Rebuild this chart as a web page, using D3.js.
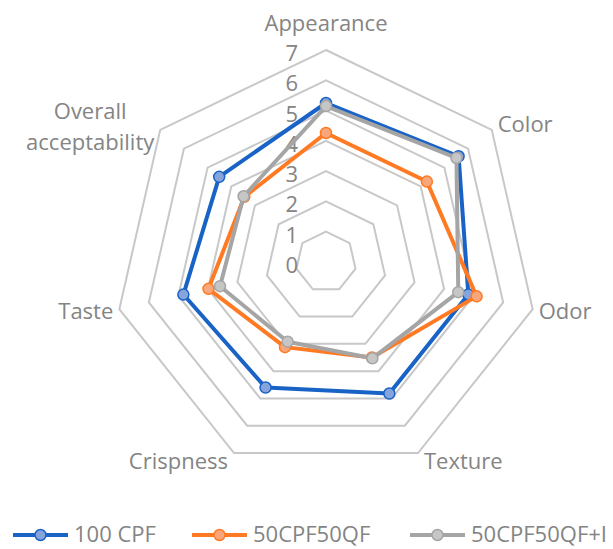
<!DOCTYPE html>
<html>
<head>
<meta charset="utf-8">
<script src="https://cdn.jsdelivr.net/npm/d3@7"></script>
<style>
  html, body { margin: 0; padding: 0; background: #fff; }
  svg { display: block; font-family: "Open Sans", sans-serif; }
</style>
</head>
<body>
<div id="chart"></div>
<script>
// axes of the radar, clockwise from the top
const categories = ["Appearance", "Color", "Odor", "Texture", "Crispness", "Taste", "Overall acceptability"];

// sensory scores
const cpf100 = [5.25, 5.6, 4.82, 4.82, 4.6, 4.83, 4.51];
const cpf50qf50 = [4.26, 4.26, 5.1, 3.5, 3.12, 3.98, 3.45];
const cpf50qf50i = [5.15, 5.51, 4.48, 3.53, 2.92, 3.59, 3.48];

const seriesNames = ["100 CPF", "50CPF50QF", "50CPF50QF+I"];
const tickValues = [0, 1, 2, 3, 4, 5, 6, 7];

const width = 613, height = 549;
const cx = 326, cy = 262;
const fontSize = 22;
const textColor = "#848484";

const series = [
  { name: seriesNames[0], values: cpf100, stroke: "#1a63c6", fill: "#86a4dc" },
  { name: seriesNames[1], values: cpf50qf50, stroke: "#ff7a22", fill: "#f9a77a" },
  { name: seriesNames[2], values: cpf50qf50i, stroke: "#a5a5a5", fill: "#c6c6c6" }
];

const svg = d3.select("#chart").append("svg")
  .attr("width", width).attr("height", height);

const r = d3.scaleLinear().domain([0, 7]).range([0, 212]);
const angle = d3.scalePoint().domain(categories).range([0, 2 * Math.PI * 6 / 7]);

const px = (cat, v) => cx + r(v) * Math.sin(angle(cat));
const py = (cat, v) => cy - r(v) * Math.cos(angle(cat));

const g = svg.append("g");

// grid rings
g.selectAll("path.ring")
  .data(tickValues.slice(1))
  .join("path")
  .attr("class", "ring")
  .attr("d", v => d3.line()(categories.map(c => [px(c, v), py(c, v)])) + "Z")
  .attr("fill", "none")
  .attr("stroke", "#c8c8c8")
  .attr("stroke-width", 2);

// tick labels
g.selectAll("text.tick")
  .data(tickValues)
  .join("text")
  .attr("class", "tick")
  .attr("x", 298)
  .attr("y", v => cy - r(v) + 11)
  .attr("text-anchor", "end")
  .attr("font-size", fontSize)
  .attr("fill", textColor)
  .text(v => v);

// series lines + markers
const line = d3.line();
series.forEach(s => {
  const pts = categories.map((c, i) => [px(c, s.values[i]), py(c, s.values[i])]);
  g.append("path")
    .attr("d", line(pts) + "Z")
    .attr("fill", "none")
    .attr("stroke", s.stroke)
    .attr("stroke-width", 4)
    .attr("stroke-linejoin", "round");
  g.selectAll(null)
    .data(pts)
    .join("circle")
    .attr("cx", d => d[0]).attr("cy", d => d[1])
    .attr("r", 5.5)
    .attr("fill", s.fill)
    .attr("stroke", s.stroke)
    .attr("stroke-width", 1.5);
});

// axis labels
categories.forEach(c => {
  const a = angle(c);
  const vx = px(c, 7), vy = py(c, 7);
  const sx = Math.sin(a), cyv = -Math.cos(a);
  const t = g.append("text")
    .attr("font-size", fontSize)
    .attr("fill", textColor);
  if (Math.abs(sx) < 0.01) {
    t.attr("x", vx).attr("y", vy - 19).attr("text-anchor", "middle").text(c);
    return;
  }
  const x = vx + (sx > 0 ? 6 : -6);
  const y = vy + cyv * 9 + 8;
  const words = c.split(" ");
  if (words.length > 1) {
    // two-line label, lines centred on each other, block flush to the ring
    const spans = words.map((w, i) => t.append("tspan").attr("y", y + (i - 0.5) * 31 + 2).text(w));
    const widest = d3.max(spans, s => s.node().getComputedTextLength());
    const mid = sx > 0 ? x + widest / 2 : x - widest / 2;
    t.attr("text-anchor", "middle");
    spans.forEach(s => s.attr("x", mid));
  } else {
    t.attr("text-anchor", sx > 0 ? "start" : "end").attr("x", x).attr("y", y).text(c);
  }
});

// legend
const legendX = [13, 192, 410];
const leg = svg.append("g").attr("transform", "translate(0,535)");
series.forEach((s, i) => {
  const item = leg.append("g").attr("transform", `translate(${legendX[i]},0)`);
  item.append("line")
    .attr("x1", 0).attr("x2", 55).attr("y1", 0).attr("y2", 0)
    .attr("stroke", s.stroke).attr("stroke-width", 4);
  item.append("circle")
    .attr("cx", 27.5).attr("cy", 0).attr("r", 5.5)
    .attr("fill", s.fill).attr("stroke", s.stroke).attr("stroke-width", 1.5);
  item.append("text")
    .attr("x", 61).attr("y", 7)
    .attr("font-size", fontSize)
    .attr("fill", textColor)
    .text(s.name);
});
</script>
</body>
</html>
